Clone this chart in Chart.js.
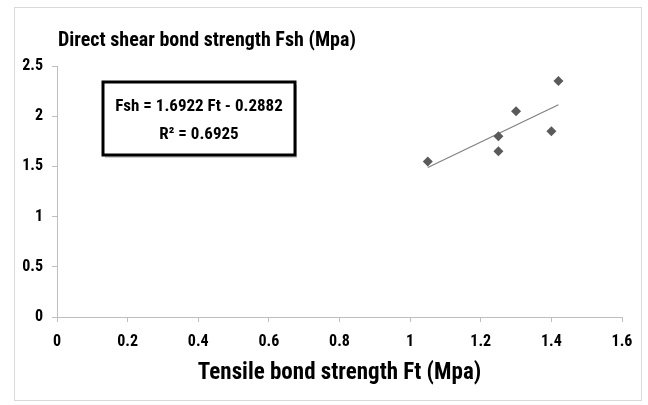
<!DOCTYPE html>
<html>
<head>
<meta charset="utf-8">
<script src="https://cdn.jsdelivr.net/npm/chart.js@4"></script>
<style>
html,body{margin:0;padding:0;background:#fff;}
#wrap{width:648px;height:405px;position:relative;}
</style>
</head>
<body>
<div id="wrap"><canvas id="c" width="648" height="405"></canvas></div>
<script>
const FONT = "'Liberation Sans Narrow', 'Roboto Condensed', 'Open Sans', sans-serif";
const chartTitle = "Direct shear bond strength Fsh (Mpa)";
const xAxisTitle = "Tensile bond strength Ft (Mpa)";
const equationLines = ["Fsh = 1.6922 Ft - 0.2882", "R² = 0.6925"];

const tensileFt = [1.05, 1.25, 1.25, 1.30, 1.40, 1.42];
const shearFsh  = [1.55, 1.80, 1.65, 2.05, 1.85, 2.35];
const trendX = [1.05, 1.42];
const trendY = [1.4886, 2.1147];

const xTicks = [0, 0.2, 0.4, 0.6, 0.8, 1, 1.2, 1.4, 1.6];
const yTicks = [0, 0.5, 1, 1.5, 2, 2.5];

const pts = tensileFt.map((x, i) => ({x: x, y: shearFsh[i]}));
const trend = trendX.map((x, i) => ({x: x, y: trendY[i]}));

const decor = {
  id: 'decor',
  beforeDraw(chart) {
    const ctx = chart.ctx;
    ctx.save();
    ctx.fillStyle = '#fff';
    ctx.fillRect(0, 0, chart.width, chart.height);
    ctx.strokeStyle = '#d9d9d9';
    ctx.lineWidth = 1;
    ctx.strokeRect(14.5, 7.5, 627, 393);
    ctx.restore();
  },
  afterDraw(chart) {
    const ctx = chart.ctx;
    const ca = chart.chartArea;
    ctx.save();
    // title
    ctx.fillStyle = '#000';
    ctx.font = "bold 20px " + FONT;
    ctx.textAlign = 'left';
    ctx.textBaseline = 'alphabetic';
    ctx.fillText(chartTitle, ca.left + 1, 46);
    // equation box
    const bx = 103, by = 82, bw = 192, bh = 73;
    ctx.fillStyle = 'rgba(0,0,0,0.18)';
    ctx.fillRect(bx + 2, by + 3, bw, bh);
    ctx.fillStyle = '#fff';
    ctx.fillRect(bx, by, bw, bh);
    ctx.strokeStyle = '#000';
    ctx.lineWidth = 3;
    ctx.strokeRect(bx, by, bw, bh);
    ctx.fillStyle = '#000';
    ctx.font = "bold 17px " + FONT;
    ctx.textAlign = 'center';
    ctx.textBaseline = 'middle';
    ctx.fillText(equationLines[0], bx + bw / 2, 107);
    ctx.fillText(equationLines[1], bx + bw / 2, 135);
    ctx.restore();
  }
};

new Chart(document.getElementById('c'), {
  type: 'scatter',
  data: {
    datasets: [
      {
        label: 'Fsh',
        data: pts,
        pointStyle: 'rectRot',
        pointRadius: 5,
        pointHoverRadius: 5,
        backgroundColor: '#5a5a5a',
        borderColor: '#5a5a5a',
        borderWidth: 0,
        showLine: false
      },
      {
        label: 'Trend',
        type: 'line',
        data: trend,
        borderColor: '#808080',
        borderWidth: 1.2,
        pointRadius: 0,
        fill: false
      }
    ]
  },
  options: {
    responsive: false,
    animation: false,
    events: [],
    layout: { padding: { left: 0, right: 26, top: 66, bottom: 0 } },
    plugins: {
      legend: { display: false },
      tooltip: { enabled: false },
      title: { display: false }
    },
    scales: {
      x: {
        type: 'linear',
        min: 0, max: 1.6,
        afterFit(axis) { axis.height = 88; },
        afterBuildTicks(axis) { axis.ticks = xTicks.map(v => ({value: v})); },
        border: { display: true, color: '#bfbfbf', width: 1 },
        grid: { display: true, drawOnChartArea: false, tickLength: 5, color: '#bfbfbf' },
        ticks: {
          color: '#000',
          padding: 10,
          font: { family: FONT, size: 16, weight: 'bold' },
          callback: v => String(v)
        },
        title: {
          display: true,
          text: xAxisTitle,
          color: '#000',
          font: { family: FONT, size: 23, weight: 'bold' },
          padding: { top: 0, bottom: 18 }
        }
      },
      y: {
        type: 'linear',
        min: 0, max: 2.5,
        afterFit(axis) { axis.width = 57; },
        afterBuildTicks(axis) { axis.ticks = yTicks.map(v => ({value: v})); },
        border: { display: true, color: '#bfbfbf', width: 1 },
        grid: { display: true, drawOnChartArea: false, tickLength: 5, color: '#bfbfbf' },
        ticks: {
          color: '#000',
          padding: 9,
          font: { family: FONT, size: 16, weight: 'bold' },
          callback: v => String(v)
        }
      }
    }
  },
  plugins: [decor]
});
</script>
</body>
</html>
